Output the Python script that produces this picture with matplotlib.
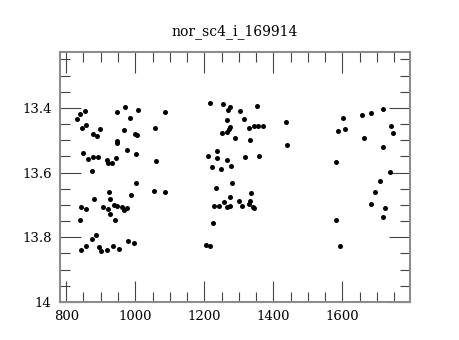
import matplotlib
matplotlib.use("Agg")
import matplotlib.pyplot as plt
from matplotlib.ticker import MultipleLocator, FormatStrFormatter, FuncFormatter

title = "nor_sc4_i_169914"

x_vals = [
    # left group
    970, 1007, 853, 948, 1086, 839, 832, 985, 856, 845, 897, 1058, 968, 877, 890,
    998, 1005, 946, 948, 976, 849, 1002, 864, 878, 893, 918, 945, 921, 932, 1059,
    875, 1003, 924, 1054, 1085, 988, 880, 928, 842, 857, 908, 939, 947, 922, 963,
    975, 968, 926, 840, 941, 885, 874, 858, 843, 895, 900, 919, 936, 952, 978, 996,
    # middle group
    1217, 1255, 1274, 1270, 1353, 1304, 1266, 1315, 1275, 1271, 1265, 1251, 1329,
    1345, 1355, 1369, 1438, 1289, 1333, 1440, 1238, 1212, 1236, 1265, 1319, 1359,
    1223, 1247, 1278, 1280, 1234, 1336, 1275, 1258, 1300, 1332, 1330, 1228, 1243,
    1267, 1274, 1310, 1340, 1344, 1226, 1204, 1216,
    # right group
    1601, 1658, 1683, 1717, 1588, 1608, 1664, 1741, 1746, 1719, 1583, 1738, 1710,
    1696, 1682, 1723, 1719, 1581, 1592,
]

y_vals = [
    # left group
    13.396, 13.405, 13.409, 13.411, 13.413, 13.419, 13.434, 13.432, 13.453, 13.461,
    13.465, 13.463, 13.469, 13.481, 13.488, 13.481, 13.485, 13.501, 13.508, 13.529,
    13.539, 13.542, 13.557, 13.551, 13.552, 13.561, 13.555, 13.571, 13.570, 13.564,
    13.595, 13.632, 13.660, 13.656, 13.660, 13.668, 13.680, 13.680, 13.707, 13.711,
    13.706, 13.701, 13.704, 13.713, 13.707, 13.708, 13.715, 13.727, 13.745, 13.745,
    13.794, 13.805, 13.826, 13.839, 13.830, 13.841, 13.839, 13.826, 13.837, 13.811,
    13.818,
    # middle group
    13.385, 13.389, 13.397, 13.405, 13.393, 13.409, 13.436, 13.433, 13.460, 13.466,
    13.473, 13.478, 13.463, 13.456, 13.456, 13.457, 13.444, 13.494, 13.500, 13.515,
    13.532, 13.550, 13.556, 13.562, 13.552, 13.548, 13.584, 13.590, 13.581, 13.633,
    13.649, 13.664, 13.675, 13.691, 13.687, 13.687, 13.696, 13.704, 13.704, 13.707,
    13.704, 13.702, 13.706, 13.708, 13.757, 13.825, 13.828,
    # right group
    13.430, 13.421, 13.415, 13.404, 13.471, 13.466, 13.494, 13.456, 13.478, 13.522,
    13.568, 13.598, 13.625, 13.660, 13.696, 13.709, 13.736, 13.747, 13.828,
]

x_limits = (782, 1796)
y_limits = (14.0, 13.227)

plt.rcParams['font.family'] = ['DejaVu Serif']

fig = plt.figure(figsize=(4.6, 3.4), dpi=100)
ax = fig.add_axes([60 / 460, 38 / 340, 350 / 460, 250 / 340])

ax.plot(x_vals, y_vals, 'o', color='black', markersize=3.6, markeredgewidth=0)

ax.set_xlim(*x_limits)
ax.set_ylim(*y_limits)

ax.xaxis.set_major_locator(MultipleLocator(200))
ax.xaxis.set_minor_locator(MultipleLocator(50))
ax.yaxis.set_major_locator(MultipleLocator(0.2))
ax.yaxis.set_minor_locator(MultipleLocator(0.05))
ax.yaxis.set_major_formatter(FuncFormatter(lambda v, p: ('%g' % round(v, 3))))

ax.tick_params(which='both', direction='in', top=True, right=True,
               color='#444444', width=0.8, labelsize=9.5, labelcolor='black')
ax.tick_params(which='major', length=15, pad=6)
ax.tick_params(which='minor', length=7.5)

for s in ax.spines.values():
    s.set_color('#8c8c8c')
    s.set_linewidth(1.5)

ax.set_title(title, fontsize=10, pad=12)

fig.savefig("out.png", dpi=100)
